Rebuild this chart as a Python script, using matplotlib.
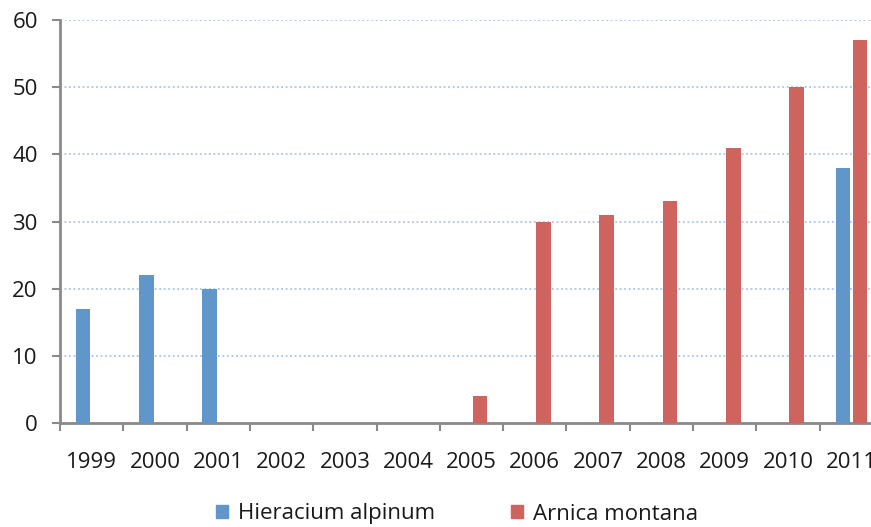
import numpy as np
import matplotlib.pyplot as plt
from matplotlib.patches import Patch

plt.rcParams['font.family'] = ['Open Sans', 'DejaVu Sans']

years = ['1999', '2000', '2001', '2002', '2003', '2004', '2005',
         '2006', '2007', '2008', '2009', '2010', '2011']
hieracium = [17, 22, 20, 0, 0, 0, 0, 0, 0, 0, 0, 0, 38]
arnica = [0, 0, 0, 0, 0, 0, 4, 30, 31, 33, 41, 50, 57]

blue = '#6096c9'
red = '#cf635e'
axis_grey = '#8a8a8a'

fig = plt.figure(figsize=(8.71, 5.27), dpi=100)
# the original is cropped on the right, so the axes run past the figure edge
ax = fig.add_axes([60/871, 1 - 423/527, 823/871, 403/527])

x = np.arange(len(years)) + 0.5
w = 0.23
ax.bar(x - 0.135, hieracium, w, color=blue, zorder=3)
ax.bar(x + 0.135, arnica, w, color=red, zorder=3)

ax.set_xlim(0, len(years))
ax.set_ylim(0, 60)
ax.set_yticks(range(0, 61, 10))
ax.set_xticks(np.arange(len(years) + 1))
ax.set_xticklabels([])
ax.set_xticks(x, minor=True)
ax.set_xticklabels(years, minor=True)

ax.yaxis.grid(True, color='#a9c4e8', linestyle=(0, (1, 1.5)), linewidth=1.3, zorder=0)
for s in ['top', 'right']:
    ax.spines[s].set_visible(False)
for s in ['left', 'bottom']:
    ax.spines[s].set_color(axis_grey)
    ax.spines[s].set_linewidth(2)

ax.tick_params(axis='y', which='major', length=6, width=1.5, color=axis_grey,
               labelsize=16, pad=10, labelcolor='#1a1a1a')
ax.tick_params(axis='x', which='major', length=6, width=1.5, color=axis_grey, direction='out')
ax.tick_params(axis='x', which='minor', length=0, labelsize=16, pad=21, labelcolor='#1a1a1a')

handles = [Patch(color=blue, label='Hieracium alpinum'),
           Patch(color=red, label='Arnica montana')]
fig.legend(handles=handles, loc='center', bbox_to_anchor=(457/871, 1 - 514/527),
           ncol=2, frameon=False, fontsize=16, handlelength=0.55, handleheight=0.55,
           handletextpad=0.45, columnspacing=3.4, labelcolor='#1a1a1a')

fig.savefig('out.png', dpi=100)
